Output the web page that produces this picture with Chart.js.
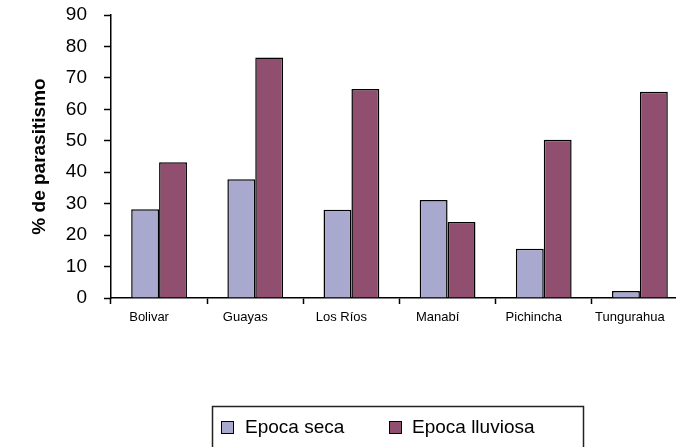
<!DOCTYPE html>
<html>
<head>
<meta charset="utf-8">
<title>% de parasitismo por provincia</title>
<script src="https://cdn.jsdelivr.net/npm/chart.js@4"></script>
<style>
  html, body { margin: 0; padding: 0; background: #fff; overflow: hidden; }
  #wrap { position: absolute; left: 0; top: 0; width: 688px; height: 447px; }
</style>
</head>
<body>
<div id="wrap"><canvas id="myChart" width="688" height="447"></canvas></div>
<script>
// Data
const provincias = ["Bolivar", "Guayas", "Los Ríos", "Manabí", "Pichincha", "Tungurahua"];
const epocaSeca = [28.2, 37.8, 28.1, 31.2, 15.7, 2.2];
const epocaLluviosa = [43.2, 76.5, 66.5, 24.2, 50.3, 65.6];
const seriesNames = ["Epoca seca", "Epoca lluviosa"];
const yTicks = [0, 10, 20, 30, 40, 50, 60, 70, 80, 90];

const FONT = "Arial, 'Liberation Sans', sans-serif";

// Boxed legend drawn under the chart, like the original spreadsheet one
const boxedLegend = {
  id: "boxedLegend",
  afterDraw(chart) {
    const c = chart.ctx;
    c.save();
    c.strokeStyle = "#222";
    c.lineWidth = 1.5;
    c.strokeRect(212.5, 406.5, 371, 60);

    const items = [
      { x: 221, textX: 245 },
      { x: 389, textX: 412 },
    ];
    chart.data.datasets.forEach((ds, i) => {
      const it = items[i];
      c.fillStyle = ds.backgroundColor;
      c.fillRect(it.x, 421, 12, 12);
      c.strokeStyle = "#000";
      c.lineWidth = 1;
      c.strokeRect(it.x + 0.5, 421.5, 12, 12);
      c.fillStyle = "#000";
      c.font = "19px " + FONT;
      c.textBaseline = "middle";
      c.textAlign = "left";
      c.fillText(ds.label, it.textX, 428);
    });
    c.restore();
  },
};

const ctx = document.getElementById("myChart");
const myChart = new Chart(ctx, {
  type: "bar",
  data: {
    labels: provincias,
    datasets: [
      {
        label: seriesNames[0],
        data: epocaSeca,
        backgroundColor: "#a9a9cf",
        borderColor: "#000",
        borderWidth: 1.5,
      },
      {
        label: seriesNames[1],
        data: epocaLluviosa,
        backgroundColor: "#914f6f",
        borderColor: "#000",
        borderWidth: 1.5,
      },
    ],
  },
  options: {
    responsive: false,
    animation: false,
    layout: { padding: 0 },
    categoryPercentage: 0.58,
    barPercentage: 1,
    plugins: {
      legend: { display: false },
      tooltip: { enabled: false },
    },
    scales: {
      x: {
        grid: {
          offset: true,
          drawOnChartArea: false,
          tickLength: 6,
          tickColor: "#000",
          tickWidth: 1.5,
        },
        border: { color: "#000", width: 1.5 },
        ticks: {
          color: "#000",
          padding: 6,
          labelOffset: -10,
          maxRotation: 0,
          font: { family: FONT, size: 13 },
        },
        afterFit(scale) {
          scale.height = 149;
        },
      },
      y: {
        min: 0,
        max: 90,
        afterBuildTicks(scale) {
          scale.ticks = yTicks.map((v) => ({ value: v }));
        },
        grid: {
          drawOnChartArea: false,
          tickLength: 7,
          tickColor: "#000",
          tickWidth: 1.5,
        },
        border: { color: "#000", width: 1.5 },
        ticks: {
          color: "#000",
          padding: 17,
          font: { family: FONT, size: 19 },
        },
        title: {
          display: true,
          text: "% de parasitismo",
          color: "#000",
          padding: { top: 28, bottom: 0 },
          font: { family: FONT, size: 19, weight: "bold" },
        },
        afterFit(scale) {
          scale.width = 111;
          scale.paddingTop = 15;
        },
      },
    },
  },
  plugins: [boxedLegend],
});
</script>
</body>
</html>
